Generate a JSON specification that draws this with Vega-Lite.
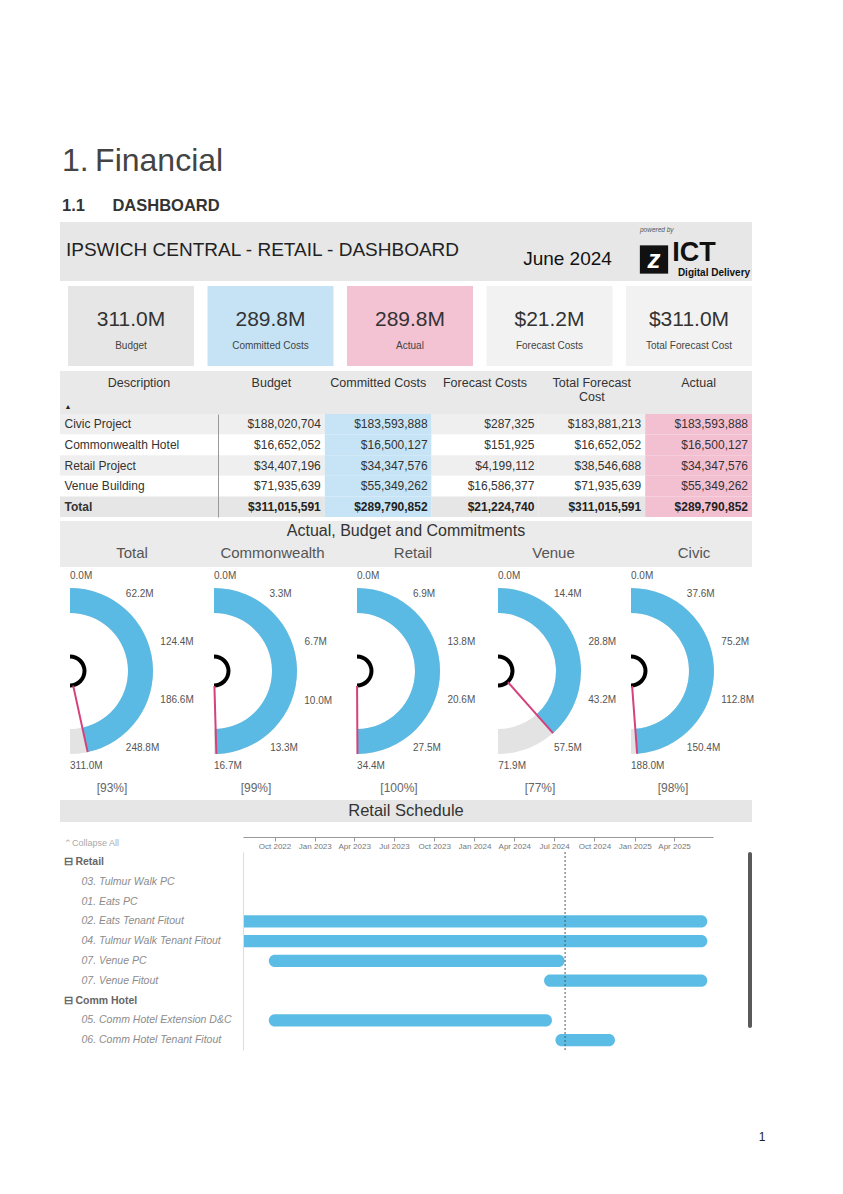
{
"$schema": "https://vega.github.io/schema/vega-lite/v6.json",
"background": "#ffffff",
"padding": {"left": 60, "top": 144, "right": 0, "bottom": 0},
"bounds": "full",
"spacing": 0,
"resolve": {"scale": {"theta": "independent"}},
"config": {
  "view": {"stroke": null},
  "font": "Liberation Sans",
  "concat": {"spacing": 0},
  "title": {"font": "Liberation Sans", "subtitleFont": "Liberation Sans"},
  "axis": {"labelFont": "Liberation Sans", "titleFont": "Liberation Sans"},
  "text": {"font": "Liberation Sans"}
},
"datasets": {
  "cards": [
    {"metric": "Budget", "value": 311015591, "label": "311.0M"},
    {"metric": "Committed Costs", "value": 289790852, "label": "289.8M"},
    {"metric": "Actual", "value": 289790852, "label": "289.8M"},
    {"metric": "Forecast Costs", "value": 21224740, "label": "$21.2M"},
    {"metric": "Total Forecast Cost", "value": 311015591, "label": "$311.0M"}
  ],
  "table": [
    {"description": "Civic Project", "Budget": 188020704, "Committed Costs": 183593888, "Forecast Costs": 287325, "Total Forecast Cost": 183881213, "Actual": 183593888},
    {"description": "Commonwealth Hotel", "Budget": 16652052, "Committed Costs": 16500127, "Forecast Costs": 151925, "Total Forecast Cost": 16652052, "Actual": 16500127},
    {"description": "Retail Project", "Budget": 34407196, "Committed Costs": 34347576, "Forecast Costs": 4199112, "Total Forecast Cost": 38546688, "Actual": 34347576},
    {"description": "Venue Building", "Budget": 71935639, "Committed Costs": 55349262, "Forecast Costs": 16586377, "Total Forecast Cost": 71935639, "Actual": 55349262},
    {"description": "Total", "Budget": 311015591, "Committed Costs": 289790852, "Forecast Costs": 21224740, "Total Forecast Cost": 311015591, "Actual": 289790852}
  ],
  "columns": [
    {"column": "Budget", "title": "Budget"},
    {"column": "Committed Costs", "title": "Committed Costs"},
    {"column": "Forecast Costs", "title": "Forecast Costs"},
    {"column": "Total Forecast Cost", "title": ["Total Forecast", "Cost"]},
    {"column": "Actual", "title": "Actual"}
  ],
  "gauges": [
    {"gauge": "Total", "budget": 311.02, "actual": 289.79, "pct": "[93%]"},
    {"gauge": "Commonwealth", "budget": 16.65, "actual": 16.5, "pct": "[99%]"},
    {"gauge": "Retail", "budget": 34.41, "actual": 34.35, "pct": "[100%]"},
    {"gauge": "Venue", "budget": 71.94, "actual": 55.35, "pct": "[77%]"},
    {"gauge": "Civic", "budget": 188.02, "actual": 183.59, "pct": "[98%]"}
  ],
  "ticks": [
    {"gauge": "Total", "tick": 0, "label": "0.0M"},
    {"gauge": "Total", "tick": 62.2, "label": "62.2M"},
    {"gauge": "Total", "tick": 124.4, "label": "124.4M"},
    {"gauge": "Total", "tick": 186.6, "label": "186.6M"},
    {"gauge": "Total", "tick": 248.8, "label": "248.8M"},
    {"gauge": "Total", "tick": 311.0, "label": "311.0M"},
    {"gauge": "Commonwealth", "tick": 0, "label": "0.0M"},
    {"gauge": "Commonwealth", "tick": 3.3, "label": "3.3M"},
    {"gauge": "Commonwealth", "tick": 6.7, "label": "6.7M"},
    {"gauge": "Commonwealth", "tick": 10.0, "label": "10.0M"},
    {"gauge": "Commonwealth", "tick": 13.3, "label": "13.3M"},
    {"gauge": "Commonwealth", "tick": 16.65, "label": "16.7M"},
    {"gauge": "Retail", "tick": 0, "label": "0.0M"},
    {"gauge": "Retail", "tick": 6.9, "label": "6.9M"},
    {"gauge": "Retail", "tick": 13.8, "label": "13.8M"},
    {"gauge": "Retail", "tick": 20.6, "label": "20.6M"},
    {"gauge": "Retail", "tick": 27.5, "label": "27.5M"},
    {"gauge": "Retail", "tick": 34.4, "label": "34.4M"},
    {"gauge": "Venue", "tick": 0, "label": "0.0M"},
    {"gauge": "Venue", "tick": 14.4, "label": "14.4M"},
    {"gauge": "Venue", "tick": 28.8, "label": "28.8M"},
    {"gauge": "Venue", "tick": 43.2, "label": "43.2M"},
    {"gauge": "Venue", "tick": 57.5, "label": "57.5M"},
    {"gauge": "Venue", "tick": 71.9, "label": "71.9M"},
    {"gauge": "Civic", "tick": 0, "label": "0.0M"},
    {"gauge": "Civic", "tick": 37.6, "label": "37.6M"},
    {"gauge": "Civic", "tick": 75.2, "label": "75.2M"},
    {"gauge": "Civic", "tick": 112.8, "label": "112.8M"},
    {"gauge": "Civic", "tick": 150.4, "label": "150.4M"},
    {"gauge": "Civic", "tick": 188.0, "label": "188.0M"}
  ],
  "tasks": [
    {"task": "02. Eats Tenant Fitout", "start": "2022-05-01", "end": "2025-06-16"},
    {"task": "04. Tulmur Walk Tenant Fitout", "start": "2022-05-01", "end": "2025-06-16"},
    {"task": "07. Venue PC", "start": "2022-09-18", "end": "2024-07-25"},
    {"task": "07. Venue Fitout", "start": "2024-06-08", "end": "2025-06-16"},
    {"task": "05. Comm Hotel Extension D&C", "start": "2022-09-18", "end": "2024-06-26"},
    {"task": "06. Comm Hotel Tenant Fitout", "start": "2024-07-04", "end": "2024-11-17"}
  ],
  "today": [{"date": "2024-07-26"}]
},
"vconcat": [
  {
    "width": 692, "height": 59,
    "view": {"fill": "#e7e7e7"},
    "title": {"text": "1.\u2009Financial", "subtitle": "1.1\u00a0\u00a0\u00a0\u00a0\u00a0\u00a0DASHBOARD", "anchor": "start", "dx": 2, "offset": 7, "fontSize": 32, "fontWeight": "normal", "color": "#444444", "subtitleFontSize": 16.5, "subtitleFontWeight": "bold", "subtitleColor": "#333333", "subtitlePadding": 20},
    "data": {"values": [
      {"part": "title", "text": "IPSWICH CENTRAL - RETAIL - DASHBOARD"},
      {"part": "period", "text": "June 2024"},
      {"part": "powered", "text": "powered by"},
      {"part": "brand", "text": "ICT"},
      {"part": "tagline", "text": "Digital Delivery"},
      {"part": "icon", "text": "z"}
    ]},
    "layer": [
      {"transform": [{"filter": "datum.part == 'title'"}], "mark": {"type": "text", "align": "left", "dx": -340, "dy": -1.5, "fontSize": 19, "color": "#222222"}, "encoding": {"text": {"field": "text"}}},
      {"transform": [{"filter": "datum.part == 'period'"}], "mark": {"type": "text", "dx": 161.5, "dy": 7.5, "fontSize": 19, "color": "#111111"}, "encoding": {"text": {"field": "text"}}},
      {"transform": [{"filter": "datum.part == 'icon'"}], "mark": {"type": "square", "size": 800, "color": "#111111", "opacity": 1, "xOffset": 248, "yOffset": 8}, "encoding": {}},
      {"transform": [{"filter": "datum.part == 'icon'"}], "mark": {"type": "text", "dx": 248, "dy": 8, "fontSize": 26, "fontWeight": "bold", "fontStyle": "italic", "color": "#ffffff"}, "encoding": {"text": {"field": "text"}}},
      {"transform": [{"filter": "datum.part == 'brand'"}], "mark": {"type": "text", "dx": 288, "dy": 1.5, "fontSize": 27, "fontWeight": "bold", "color": "#111111"}, "encoding": {"text": {"field": "text"}}},
      {"transform": [{"filter": "datum.part == 'tagline'"}], "mark": {"type": "text", "dx": 308, "dy": 21, "fontSize": 10, "fontWeight": "bold", "color": "#111111"}, "encoding": {"text": {"field": "text"}}},
      {"transform": [{"filter": "datum.part == 'powered'"}], "mark": {"type": "text", "align": "left", "dx": 234, "dy": -22, "fontSize": 6.5, "fontStyle": "italic", "color": "#555555"}, "encoding": {"text": {"field": "text"}}}
    ]
  },
  {"width": 692, "height": 5, "data": {"values": []}, "mark": "point"},
  {
    "width": 692, "height": 80,
    "data": {"name": "cards"},
    "encoding": {"x": {"field": "metric", "type": "nominal", "sort": null, "scale": {"paddingInner": 0.0968, "paddingOuter": 0.0287, "align": 1}, "axis": null}},
    "layer": [
      {"mark": {"type": "bar"}, "encoding": {"color": {"condition": [{"test": "datum.metric == 'Budget'", "value": "#e6e6e6"}, {"test": "datum.metric == 'Committed Costs'", "value": "#c5e3f5"}, {"test": "datum.metric == 'Actual'", "value": "#f3c2d3"}], "value": "#f2f2f2"}}},
      {"mark": {"type": "text", "fontSize": 21, "dy": -6, "color": "#333333"}, "encoding": {"text": {"field": "label"}}},
      {"mark": {"type": "text", "fontSize": 10, "dy": 20, "color": "#444444"}, "encoding": {"text": {"field": "metric"}}}
    ]
  },
  {"width": 692, "height": 5, "data": {"values": []}, "mark": "point"},
  {
    "hconcat": [
      {
        "width": 158, "height": 43, "view": {"fill": "#e9e9e9"},
        "data": {"values": [{"column": "Description"}]},
        "layer": [
          {"mark": {"type": "text", "baseline": "top", "dy": -16, "fontSize": 12.5, "color": "#333333"}, "encoding": {"text": {"field": "column"}}},
          {"mark": {"type": "text", "text": "▲", "dx": -71, "dy": 14.5, "fontSize": 7, "color": "#222222"}, "encoding": {}}
        ]
      },
      {
        "width": 534, "height": 43, "view": {"fill": "#e9e9e9"},
        "data": {"name": "columns"},
        "mark": {"type": "text", "baseline": "top", "dy": -16, "fontSize": 12.5, "lineHeight": 14, "color": "#333333"},
        "encoding": {
          "x": {"field": "column", "type": "nominal", "sort": null, "scale": {"paddingInner": 0, "paddingOuter": 0}, "axis": null},
          "text": {"field": "title"}
        }
      }
    ],
    "spacing": 0, "bounds": "flush"
  },
  {
    "hconcat": [
      {
        "width": 158, "height": 103,
        "data": {"name": "table"},
        "mark": {"type": "bar"},
        "encoding": {
          "y": {"field": "description", "type": "nominal", "sort": null, "scale": {"paddingInner": 0, "paddingOuter": 0}, "axis": {"title": null, "domain": false, "ticks": false, "tickSize": 0, "grid": false, "zindex": 1, "labelAlign": "left", "labelPadding": -4, "labelFontSize": 12, "labelColor": "#333333", "labelLimit": 0, "labelFontWeight": {"condition": {"test": "datum.value == 'Total'", "value": "bold"}, "value": "normal"}}},
          "color": {"condition": [{"test": "datum.description == 'Total'", "value": "#e6e6e6"}, {"test": "datum.description == 'Civic Project' || datum.description == 'Retail Project'", "value": "#efefef"}], "value": "#ffffff"}
        }
      },
      {
        "width": 534, "height": 103,
        "data": {"name": "table"},
        "transform": [{"fold": ["Budget", "Committed Costs", "Forecast Costs", "Total Forecast Cost", "Actual"], "as": ["column", "amount"]}],
        "encoding": {
          "y": {"field": "description", "type": "nominal", "sort": null, "scale": {"paddingInner": 0, "paddingOuter": 0}, "axis": {"title": null, "labels": false, "ticks": false, "domain": true, "domainColor": "#9a9a9a", "grid": false, "zindex": 1}},
          "x": {"field": "column", "type": "nominal", "sort": ["Budget", "Committed Costs", "Forecast Costs", "Total Forecast Cost", "Actual"], "scale": {"paddingInner": 0, "paddingOuter": 0}, "axis": null}
        },
        "layer": [
          {"mark": {"type": "bar"}, "encoding": {"color": {"condition": [{"test": "datum.column == 'Committed Costs'", "value": "#c6e4f5"}, {"test": "datum.column == 'Actual'", "value": "#f3c0d2"}, {"test": "datum.description == 'Total'", "value": "#e6e6e6"}, {"test": "datum.description == 'Civic Project' || datum.description == 'Retail Project'", "value": "#efefef"}], "value": "#ffffff"}}},
          {"transform": [{"filter": "datum.description != 'Total'"}], "mark": {"type": "text", "align": "right", "dx": -4, "fontSize": 12, "color": "#333333"}, "encoding": {"x": {"field": "column", "type": "nominal", "bandPosition": 1, "sort": ["Budget", "Committed Costs", "Forecast Costs", "Total Forecast Cost", "Actual"]}, "text": {"field": "amount", "type": "quantitative", "format": "$,.0f"}}},
          {"transform": [{"filter": "datum.description == 'Total'"}], "mark": {"type": "text", "align": "right", "dx": -4, "fontSize": 12, "fontWeight": "bold", "color": "#222222"}, "encoding": {"x": {"field": "column", "type": "nominal", "bandPosition": 1, "sort": ["Budget", "Committed Costs", "Forecast Costs", "Total Forecast Cost", "Actual"]}, "text": {"field": "amount", "type": "quantitative", "format": "$,.0f"}}}
        ]
      }
    ],
    "spacing": 0, "bounds": "flush"
  },
  {"width": 692, "height": 4, "data": {"values": []}, "mark": "point"},
  {
    "width": 692, "height": 46, "view": {"fill": "#ebebeb"},
    "title": {"text": "Actual, Budget and Commitments", "anchor": "middle", "offset": -18, "fontSize": 16, "fontWeight": "normal", "color": "#333333"},
    "data": {"name": "gauges"},
    "mark": {"type": "text", "fontSize": 15, "color": "#555555", "dy": 9},
    "encoding": {
      "x": {"field": "gauge", "type": "nominal", "sort": null, "axis": null, "scale": {"type": "point", "padding": 0.4626, "align": 0.554}},
      "text": {"field": "gauge"}
    }
  },
  {
    "hconcat": [
      {
        "width": 20, "height": 208,
        "data": {"name": "gauges"},
        "transform": [{"filter": "datum.gauge == 'Total'"}],
        "layer": [
          {"mark": {"type": "arc", "innerRadius": 58, "outerRadius": 83, "color": "#e3e3e3"}, "encoding": {"theta": {"field": "budget", "type": "quantitative", "scale": {"range": [0, 3.14159265], "zero": true, "nice": false}}}},
          {"mark": {"type": "arc", "innerRadius": 58, "outerRadius": 83, "color": "#5bbae3"}, "encoding": {"theta": {"field": "actual", "type": "quantitative"}}},
          {"mark": {"type": "arc", "innerRadius": 12.5, "outerRadius": 16.5, "color": "#000000"}, "encoding": {"theta": {"field": "budget", "type": "quantitative"}}},
          {"mark": {"type": "arc", "innerRadius": 15, "outerRadius": 83, "fill": "#d4417c", "fillOpacity": 0, "stroke": "#d4417c", "strokeWidth": 2}, "encoding": {"theta": {"field": "actual", "type": "quantitative"}, "theta2": {"field": "actual"}}},
          {"mark": {"type": "text", "dx": 42, "dy": 117, "fontSize": 12, "color": "#666666"}, "encoding": {"text": {"field": "pct"}}},
          {"data": {"name": "ticks"}, "transform": [{"filter": "datum.gauge == 'Total'"}], "mark": {"type": "text", "radius": 95, "align": "left", "baseline": "middle", "fontSize": 10, "color": "#555555"}, "encoding": {"theta": {"field": "tick", "type": "quantitative", "stack": false}, "text": {"field": "label"}}}
        ]
      },
      {
        "width": 268, "height": 208,
        "data": {"name": "gauges"},
        "transform": [{"filter": "datum.gauge == 'Commonwealth'"}],
        "layer": [
          {"mark": {"type": "arc", "innerRadius": 58, "outerRadius": 83, "color": "#e3e3e3"}, "encoding": {"theta": {"field": "budget", "type": "quantitative", "scale": {"range": [0, 3.14159265], "zero": true, "nice": false}}}},
          {"mark": {"type": "arc", "innerRadius": 58, "outerRadius": 83, "color": "#5bbae3"}, "encoding": {"theta": {"field": "actual", "type": "quantitative"}}},
          {"mark": {"type": "arc", "innerRadius": 12.5, "outerRadius": 16.5, "color": "#000000"}, "encoding": {"theta": {"field": "budget", "type": "quantitative"}}},
          {"mark": {"type": "arc", "innerRadius": 15, "outerRadius": 83, "fill": "#d4417c", "fillOpacity": 0, "stroke": "#d4417c", "strokeWidth": 2}, "encoding": {"theta": {"field": "actual", "type": "quantitative"}, "theta2": {"field": "actual"}}},
          {"mark": {"type": "text", "dx": 42, "dy": 117, "fontSize": 12, "color": "#666666"}, "encoding": {"text": {"field": "pct"}}},
          {"data": {"name": "ticks"}, "transform": [{"filter": "datum.gauge == 'Commonwealth'"}], "mark": {"type": "text", "radius": 95, "align": "left", "baseline": "middle", "fontSize": 10, "color": "#555555"}, "encoding": {"theta": {"field": "tick", "type": "quantitative", "stack": false}, "text": {"field": "label"}}}
        ]
      },
      {
        "width": 18, "height": 208,
        "data": {"name": "gauges"},
        "transform": [{"filter": "datum.gauge == 'Retail'"}],
        "layer": [
          {"mark": {"type": "arc", "innerRadius": 58, "outerRadius": 83, "color": "#e3e3e3"}, "encoding": {"theta": {"field": "budget", "type": "quantitative", "scale": {"range": [0, 3.14159265], "zero": true, "nice": false}}}},
          {"mark": {"type": "arc", "innerRadius": 58, "outerRadius": 83, "color": "#5bbae3"}, "encoding": {"theta": {"field": "actual", "type": "quantitative"}}},
          {"mark": {"type": "arc", "innerRadius": 12.5, "outerRadius": 16.5, "color": "#000000"}, "encoding": {"theta": {"field": "budget", "type": "quantitative"}}},
          {"mark": {"type": "arc", "innerRadius": 15, "outerRadius": 83, "fill": "#d4417c", "fillOpacity": 0, "stroke": "#d4417c", "strokeWidth": 2}, "encoding": {"theta": {"field": "actual", "type": "quantitative"}, "theta2": {"field": "actual"}}},
          {"mark": {"type": "text", "dx": 42, "dy": 117, "fontSize": 12, "color": "#666666"}, "encoding": {"text": {"field": "pct"}}},
          {"data": {"name": "ticks"}, "transform": [{"filter": "datum.gauge == 'Retail'"}], "mark": {"type": "text", "radius": 95, "align": "left", "baseline": "middle", "fontSize": 10, "color": "#555555"}, "encoding": {"theta": {"field": "tick", "type": "quantitative", "stack": false}, "text": {"field": "label"}}}
        ]
      },
      {
        "width": 264, "height": 208,
        "data": {"name": "gauges"},
        "transform": [{"filter": "datum.gauge == 'Venue'"}],
        "layer": [
          {"mark": {"type": "arc", "innerRadius": 58, "outerRadius": 83, "color": "#e3e3e3"}, "encoding": {"theta": {"field": "budget", "type": "quantitative", "scale": {"range": [0, 3.14159265], "zero": true, "nice": false}}}},
          {"mark": {"type": "arc", "innerRadius": 58, "outerRadius": 83, "color": "#5bbae3"}, "encoding": {"theta": {"field": "actual", "type": "quantitative"}}},
          {"mark": {"type": "arc", "innerRadius": 12.5, "outerRadius": 16.5, "color": "#000000"}, "encoding": {"theta": {"field": "budget", "type": "quantitative"}}},
          {"mark": {"type": "arc", "innerRadius": 15, "outerRadius": 83, "fill": "#d4417c", "fillOpacity": 0, "stroke": "#d4417c", "strokeWidth": 2}, "encoding": {"theta": {"field": "actual", "type": "quantitative"}, "theta2": {"field": "actual"}}},
          {"mark": {"type": "text", "dx": 42, "dy": 117, "fontSize": 12, "color": "#666666"}, "encoding": {"text": {"field": "pct"}}},
          {"data": {"name": "ticks"}, "transform": [{"filter": "datum.gauge == 'Venue'"}], "mark": {"type": "text", "radius": 95, "align": "left", "baseline": "middle", "fontSize": 10, "color": "#555555"}, "encoding": {"theta": {"field": "tick", "type": "quantitative", "stack": false}, "text": {"field": "label"}}}
        ]
      },
      {
        "width": 2, "height": 208,
        "data": {"name": "gauges"},
        "transform": [{"filter": "datum.gauge == 'Civic'"}],
        "layer": [
          {"mark": {"type": "arc", "innerRadius": 58, "outerRadius": 83, "color": "#e3e3e3"}, "encoding": {"theta": {"field": "budget", "type": "quantitative", "scale": {"range": [0, 3.14159265], "zero": true, "nice": false}}}},
          {"mark": {"type": "arc", "innerRadius": 58, "outerRadius": 83, "color": "#5bbae3"}, "encoding": {"theta": {"field": "actual", "type": "quantitative"}}},
          {"mark": {"type": "arc", "innerRadius": 12.5, "outerRadius": 16.5, "color": "#000000"}, "encoding": {"theta": {"field": "budget", "type": "quantitative"}}},
          {"mark": {"type": "arc", "innerRadius": 15, "outerRadius": 83, "fill": "#d4417c", "fillOpacity": 0, "stroke": "#d4417c", "strokeWidth": 2}, "encoding": {"theta": {"field": "actual", "type": "quantitative"}, "theta2": {"field": "actual"}}},
          {"mark": {"type": "text", "dx": 42, "dy": 117, "fontSize": 12, "color": "#666666"}, "encoding": {"text": {"field": "pct"}}},
          {"data": {"name": "ticks"}, "transform": [{"filter": "datum.gauge == 'Civic'"}], "mark": {"type": "text", "radius": 95, "align": "left", "baseline": "middle", "fontSize": 10, "color": "#555555"}, "encoding": {"theta": {"field": "tick", "type": "quantitative", "stack": false}, "text": {"field": "label"}}}
        ]
      }
    ],
    "spacing": 0, "bounds": "flush",
    "resolve": {"scale": {"theta": "independent"}}
  },
  {"width": 692, "height": 6, "data": {"values": []}, "mark": "point"},
  {
    "width": 692, "height": 22, "view": {"fill": "#e6e6e6"},
    "data": {"values": [{"section": "Retail Schedule"}]},
    "mark": {"type": "text", "fontSize": 16.5, "color": "#333333"},
    "encoding": {"text": {"field": "section"}}
  },
  {"width": 692, "height": 14, "data": {"values": []}, "mark": "point"},
  {
    "hconcat": [
      {
        "width": 183, "height": 198,
        "data": {"values": []}, "mark": "point",
        "title": {"text": "⌃Collapse All", "anchor": "start", "fontSize": 9, "fontWeight": "normal", "color": "#aaaaaa", "offset": 4, "dx": 4}
      },
      {
        "width": 470, "height": 198,
        "layer": [
          {
            "data": {"name": "tasks"},
            "mark": {"type": "bar", "cornerRadius": 6, "color": "#5bbde5", "clip": true},
            "encoding": {
              "y": {"field": "task", "type": "nominal",
                "scale": {"domain": ["Retail", "03. Tulmur Walk PC", "01. Eats PC", "02. Eats Tenant Fitout", "04. Tulmur Walk Tenant Fitout", "07. Venue PC", "07. Venue Fitout", "Comm Hotel", "05. Comm Hotel Extension D&C", "06. Comm Hotel Tenant Fitout"], "paddingInner": 0.38, "paddingOuter": 0.19},
                "axis": {"title": null, "domain": true, "domainColor": "#dddddd", "ticks": false, "tickSize": 0, "grid": false, "zindex": 1,
                  "labelAlign": "left", "labelBaseline": "middle", "labelLimit": 0, "labelFontSize": 10.5,
                  "labelPadding": {"condition": {"test": "datum.value == 'Retail' || datum.value == 'Comm Hotel'", "value": 180}, "value": 162},
                  "labelExpr": "(datum.value == 'Retail' || datum.value == 'Comm Hotel') ? '⊟ ' + datum.value : datum.value",
                  "labelFontStyle": {"condition": {"test": "datum.value == 'Retail' || datum.value == 'Comm Hotel'", "value": "normal"}, "value": "italic"},
                  "labelFontWeight": {"condition": {"test": "datum.value == 'Retail' || datum.value == 'Comm Hotel'", "value": "bold"}, "value": "normal"},
                  "labelColor": {"condition": {"test": "datum.value == 'Retail' || datum.value == 'Comm Hotel'", "value": "#666666"}, "value": "#8c8c8c"}}},
              "x": {"field": "start", "type": "temporal",
                "scale": {"domain": [{"year": 2022, "month": 7, "date": 21}, {"year": 2025, "month": 6, "date": 29}]},
                "axis": {"orient": "top", "offset": 15, "title": null, "format": "%b %Y", "tickCount": {"interval": "month", "step": 3}, "labelFontSize": 8, "labelColor": "#777777", "domainColor": "#999999", "tickColor": "#999999", "tickSize": -4, "labelPadding": -9, "grid": false, "labelFlush": false, "labelOverlap": false, "labelAngle": 0}},
              "x2": {"field": "end"}
            }
          },
          {
            "data": {"name": "today"},
            "mark": {"type": "rule", "color": "#555555", "strokeDash": [2, 2], "strokeWidth": 1},
            "encoding": {"x": {"field": "date", "type": "temporal"}}
          }
        ]
      },
      {"width": 35, "height": 10, "data": {"values": []}, "mark": "point"},
      {
        "width": 4, "height": 176, "view": {"fill": "#5a5a5a", "cornerRadius": 2},
        "data": {"values": []}, "mark": "point",
        "title": {"text": "1", "orient": "bottom", "anchor": "middle", "offset": 104, "dx": 12, "fontSize": 12, "fontWeight": "normal", "color": "#222222"}
      }
    ],
    "spacing": 0, "bounds": "flush"
  }
]
}
